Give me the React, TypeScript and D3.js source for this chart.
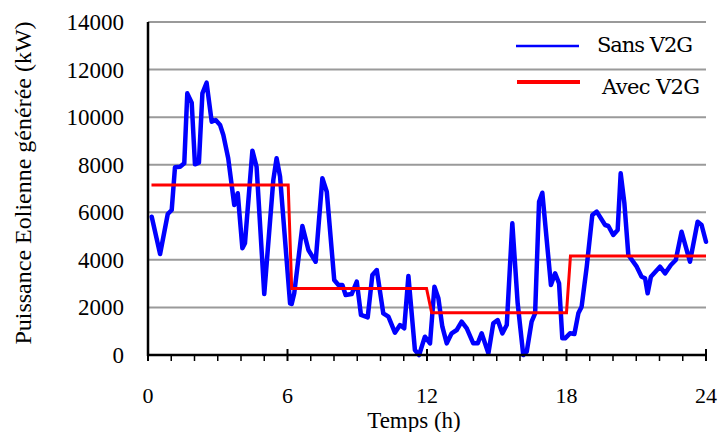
import React from "react";
import * as d3 from "d3";

const hoursSans = [0.16,0.52,0.85,1.02,1.16,1.38,1.56,1.69,1.88,2.02,2.19,2.34,2.52,2.74,2.91,3.1,3.24,3.45,3.71,3.86,4.06,4.17,4.49,4.67,5.0,5.39,5.53,5.68,6.11,6.18,6.29,6.64,6.9,7.21,7.5,7.69,8.01,8.19,8.36,8.5,8.76,8.98,9.16,9.45,9.65,9.84,10.12,10.34,10.62,10.84,11.02,11.2,11.48,11.66,11.91,12.13,12.32,12.49,12.66,12.85,13.06,13.28,13.49,13.71,13.99,14.18,14.35,14.64,14.85,15.04,15.24,15.43,15.67,15.9,16.14,16.29,16.5,16.65,16.82,16.96,17.33,17.51,17.68,17.82,17.94,18.15,18.34,18.51,18.65,18.87,19.11,19.3,19.66,19.8,20.01,20.2,20.33,20.49,20.66,21.02,21.23,21.38,21.49,21.63,22.02,22.24,22.49,22.7,22.95,23.31,23.64,23.81,24.0];
const valuesSans = [5814,4246,5928,6096,7890,7916,8060,11000,10607,8017,8085,11000,11448,9808,9880,9670,9250,8270,6306,6800,4485,4696,8590,7916,2564,7357,8270,7496,2173,2144,2594,5423,4414,3922,7429,6865,3153,2943,2943,2522,2564,3082,1682,1583,3363,3573,1752,1611,939,1261,1121,3321,210,0,770,490,2871,2383,1190,490,911,1051,1401,1121,490,490,911,70,1331,1471,911,1261,5536,2173,0,140,1401,1752,6446,6823,2943,3433,3013,701,701,911,882,1752,2032,3713,5886,6026,5466,5423,5045,5255,7638,6377,4204,3713,3292,3223,2594,3292,3713,3433,3784,3994,5182,3922,5604,5465,4763];

const hoursAvec = [0.15,6.03,6.18,11.98,12.2,18.0,18.17,24];
const valuesAvec = [7150,7150,2800,2800,1780,1780,4160,4160];

const xTicks = [0,6,12,18,24];
const yTicks = [0,2000,4000,6000,8000,10000,12000,14000];
const seriesNames = ["Sans V2G","Avec V2G"];

export default function App() {
  const x = d3.scaleLinear().domain([0,24]).range([148,706]);
  const y = d3.scaleLinear().domain([0,14000]).range([355,22]);
  const line = d3.line<[number,number]>().x(d=>x(d[0])).y(d=>y(d[1]));
  const sans = hoursSans.map((h,i)=>[h,valuesSans[i]] as [number,number]);
  const avec = hoursAvec.map((h,i)=>[h,valuesAvec[i]] as [number,number]);
  const minor = d3.range(0,25);
  const serif = "'Liberation Serif', 'Times New Roman', serif";
  return (
    <svg width={720} height={432} style={{position:"absolute",left:0,top:0,background:"#fff"}} fontFamily={serif}>
      <rect width={720} height={432} fill="#fff"/>
      {yTicks.filter(t=>t>0).map(t=>(
        <line key={t} x1={x(0)} x2={x(24)} y1={y(t)} y2={y(t)} stroke="#9a9a9a" strokeWidth={2}/>
      ))}
      {yTicks.map(t=>(
        <text key={t} x={124} y={y(t)+8} textAnchor="end" fontSize={23} fill="#000">{t}</text>
      ))}
      {xTicks.map(t=>(
        <text key={t} x={x(t)} y={403} textAnchor="middle" fontSize={22} fill="#000">{t}</text>
      ))}
      <text x={414} y={428} textAnchor="middle" fontSize={23} fill="#000">Temps (h)</text>
      <text transform="translate(31,183) rotate(-90)" textAnchor="middle" fontSize={24} fill="#000">Puissance Eolienne générée (kW)</text>
      <path d={line(sans) ?? ""} fill="none" stroke="#0000ff" strokeWidth={4.5} strokeLinejoin="round" strokeLinecap="round"/>
      <path d={line(avec) ?? ""} fill="none" stroke="#ff0000" strokeWidth={3}/>
      <line x1={x(0)} x2={x(0)} y1={y(14000)} y2={y(0)+1} stroke="#000" strokeWidth={2.5}/>
      <line x1={x(0)-1} x2={x(24)+1} y1={y(0)} y2={y(0)} stroke="#000" strokeWidth={2.5}/>
      {minor.map(t=>(
        <line key={t} x1={x(t)} x2={x(t)} y1={t%6===0 ? y(0)-6 : y(0)} y2={y(0)+6} stroke="#000" strokeWidth={t%6===0?2:1.5}/>
      ))}
      <line x1={516} x2={579} y1={46} y2={46} stroke="#0000ff" strokeWidth={2.5}/>
      <text x={597} y={52} fontSize={21} fill="#000" fontFamily="'DejaVu Serif', serif" textLength={96}>{seriesNames[0]}</text>
      <line x1={517} x2={580} y1={82} y2={82} stroke="#ff0000" strokeWidth={4}/>
      <text x={602} y={94} fontSize={21} fill="#000" fontFamily="'DejaVu Serif', serif" textLength={98}>{seriesNames[1]}</text>
    </svg>
  );
}
